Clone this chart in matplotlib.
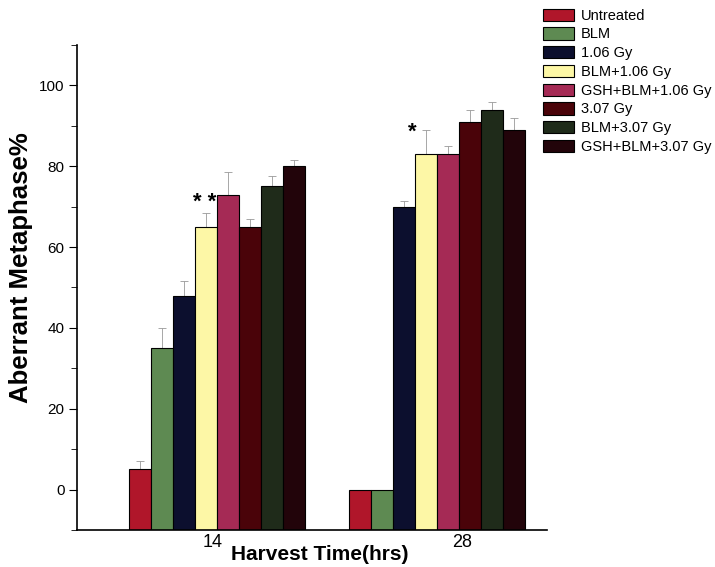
import numpy as np
import matplotlib
matplotlib.use('Agg')
import matplotlib.pyplot as plt
from matplotlib import ticker

plt.rcParams['font.family'] = ['Liberation Sans', 'DejaVu Sans']

treatments = ['Untreated', 'BLM', '1.06 Gy', 'BLM+1.06 Gy', 'GSH+BLM+1.06 Gy',
              '3.07 Gy', 'BLM+3.07 Gy', 'GSH+BLM+3.07 Gy']
colors = ['#b0162a', '#5e8a52', '#0c0f2e', '#fdf7a6', '#a52a55',
          '#4a0309', '#1f2b1a', '#22040a']
times = ['14', '28']
vals_14 = [5, 35, 48, 65, 73, 65, 75, 80]
err_14 = [2, 5, 3.5, 3.5, 5.5, 2, 2.5, 1.5]
vals_28 = [0, 0, 70, 83, 83, 91, 94, 89]
err_28 = [0, 0, 1.5, 6, 2, 3, 1.8, 3]

fig = plt.figure(figsize=(7.15, 5.67), dpi=100)
ax = fig.add_axes([0.1077, 0.0653, 0.657, 0.8553])

w = 0.1
groups = np.array([0.0, 1.0])
for i, (lab, c) in enumerate(zip(treatments, colors)):
    x = groups + (i - 3.5) * w
    ax.bar(x, [vals_14[i], vals_28[i]], width=w, color=c,
           edgecolor='black', linewidth=0.8, label=lab, zorder=2)
    ax.errorbar(x, [vals_14[i], vals_28[i]], yerr=[[0, 0], [err_14[i], err_28[i]]],
                fmt='none', ecolor='#999999', elinewidth=0.6, capsize=3,
                capthick=0.6, zorder=1)

# bars start at the axis floor (-10), as in the original figure
for p in ax.patches:
    h = p.get_height()
    p.set_y(-10)
    p.set_height(h + 10)

ax.text(-0.055, 71, '* *', fontsize=16, fontweight='bold', ha='center', va='center')
ax.text(0.89, 88.5, '*', fontsize=16, fontweight='bold', ha='center', va='center')

ax.set_xlim(-0.636, 1.5)
ax.set_ylim(-10, 110)
ax.set_xticks([-0.018, 1.114])
ax.set_xticklabels(times, fontsize=13)
ax.tick_params(axis='x', length=0, pad=3)
ax.yaxis.set_major_locator(ticker.MultipleLocator(20))
ax.yaxis.set_minor_locator(ticker.MultipleLocator(10))
ax.tick_params(axis='y', which='major', length=6, labelsize=11, pad=3)
ax.tick_params(axis='y', which='minor', length=4)
ax.spines['top'].set_visible(False)
ax.spines['right'].set_visible(False)
ax.spines['left'].set_linewidth(1.2)
ax.spines['bottom'].set_linewidth(1.2)

ax.set_ylabel('Aberrant Metaphase%', fontsize=18.5, fontweight='bold')
ax.yaxis.set_label_coords(-0.094, 0.542)
ax.text(0.517, -0.03, 'Harvest Time(hrs)', transform=ax.transAxes, fontsize=15,
        fontweight='bold', ha='center', va='top')

ax.legend(loc='upper left', bbox_to_anchor=(0.98, 1.087), frameon=False,
          fontsize=10.5, handlelength=2.1, handleheight=0.9, labelspacing=0.32,
          handletextpad=0.5, borderaxespad=0)

fig.savefig('out.png', dpi=100)
